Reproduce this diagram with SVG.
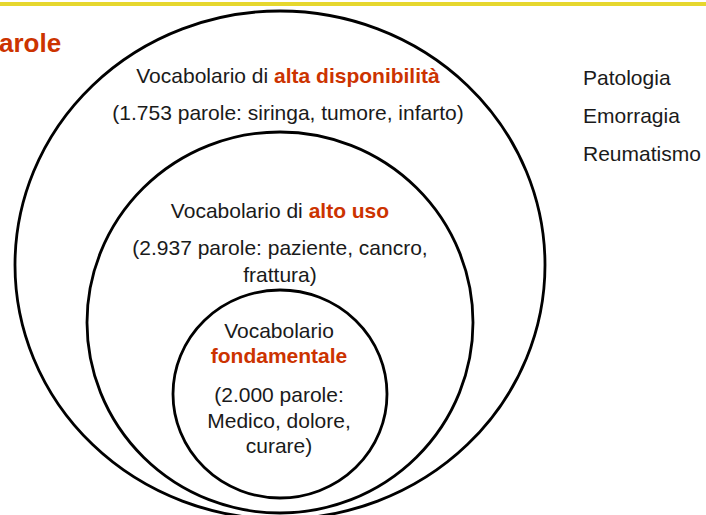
<svg xmlns="http://www.w3.org/2000/svg" width="706" height="515" viewBox="0 0 706 515">
<style>
.ring{fill:none;stroke:#000;stroke-width:2.8}
text{font-family:"Liberation Sans",Arial,sans-serif;font-size:21px;fill:#1a1a1a}
.c{text-anchor:middle}
.hl{font-weight:bold;fill:#CC3300}
</style>
<rect width="706" height="515" fill="#fff"/>
<rect x="0" y="2" width="706" height="4" fill="#E6D72E"/>
<text x="-1" y="52" class="hl" style="font-size:26px">arole</text>
<g id="outer">
<ellipse class="ring" cx="280" cy="265" rx="265" ry="254"/>
<text class="c" x="288" y="83">Vocabolario di <tspan class="hl">alta disponibilità</tspan></text>
<text class="c" x="288" y="120">(1.753 parole: siringa, tumore, infarto)</text>
</g>
<g id="middle">
<ellipse class="ring" cx="280" cy="322.5" rx="193" ry="190.5"/>
<text class="c" x="280" y="218">Vocabolario di <tspan class="hl">alto uso</tspan></text>
<text class="c" x="280" y="255">(2.937 parole: paziente, cancro,</text>
<text class="c" x="280" y="282">frattura)</text>
</g>
<g id="inner">
<ellipse class="ring" cx="280" cy="394" rx="107" ry="104"/>
<text class="c" x="279" y="338">Vocabolario</text>
<text class="c hl" x="279" y="363">fondamentale</text>
<text class="c" x="279" y="402">(2.000 parole:</text>
<text class="c" x="279" y="428">Medico, dolore,</text>
<text class="c" x="279" y="453">curare)</text>
</g>
<g id="list">
<text x="583" y="85">Patologia</text>
<text x="583" y="123">Emorragia</text>
<text x="583" y="161">Reumatismo</text>
</g>
<g id="connectors"/>
</svg>
